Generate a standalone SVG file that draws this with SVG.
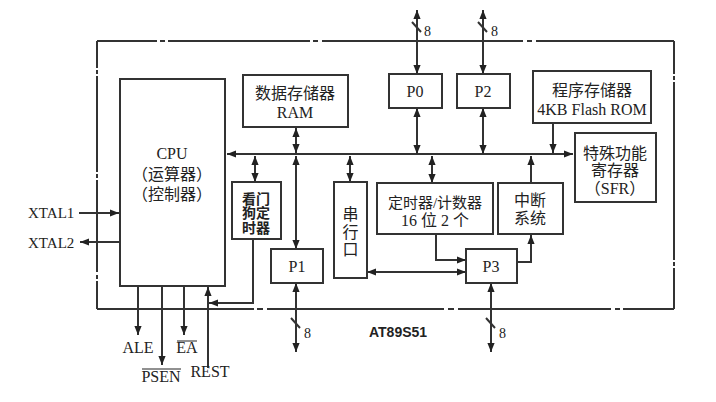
<svg xmlns="http://www.w3.org/2000/svg" width="716" height="402" viewBox="0 0 716 402">
<defs>
<marker id="ar" viewBox="0 0 10 8" refX="10" refY="4" markerWidth="9" markerHeight="8" markerUnits="userSpaceOnUse" orient="auto-start-reverse">
<path d="M0,0 L10,4 L0,8 z" fill="#222"/>
</marker>
<style>
.b{fill:#fff;stroke:#333;stroke-width:2}
.l{fill:none;stroke:#333;stroke-width:2}
.d{fill:none;stroke:#333;stroke-width:2}
.t{font-family:"Liberation Serif","Noto Sans CJK SC",serif;font-size:16px;fill:#222;text-anchor:middle}
.s{font-size:15px}
.w{font-family:"Liberation Serif","Noto Sans CJK SC",serif;font-size:14px;font-weight:bold;fill:#222;text-anchor:middle}
.n{font-family:"Liberation Serif",serif;font-size:14px;fill:#222}
.x{font-family:"Liberation Serif",serif;font-size:15px;fill:#222}
</style>
</defs>
<rect width="716" height="402" fill="#fff"/>
<g id="border" class="d">
<path d="M97,41 H157 M160,41 H165 M168,41 H310 M313,41 H318 M322,41 H523 M527,41 H532 M536,41 H674"/>
<path d="M674,41 V74 M674,76 V80 M674,82 V260 M674,262 V266 M674,268 V309"/>
<path d="M674,309 H623 M620,309 H615 M611,309 H458 M454,309 H448 M444,309 H267 M263,309 H257 M254,309 H97"/>
<path d="M97,309 V281 M97,279 V275 M97,272 V180 M97,178 V174 M97,172 V76 M97,74 V70 M97,68 V41"/>
</g>
<g id="connectors" class="l">
<path d="M573,154 H227" marker-start="url(#ar)" marker-end="url(#ar)"/>
<path d="M417,10 V74" marker-start="url(#ar)" marker-end="url(#ar)"/>
<path d="M417,108 V154" marker-start="url(#ar)" marker-end="url(#ar)"/>
<path d="M483,10 V74" marker-start="url(#ar)" marker-end="url(#ar)"/>
<path d="M483,108 V154" marker-start="url(#ar)" marker-end="url(#ar)"/>
<path d="M412,22 L421,32 M478,22 L487,32 M291,318 L300,328 M486,318 L495,328"/>
<path d="M553,123 V153" marker-end="url(#ar)"/>
<path d="M296,128 V153" marker-start="url(#ar)" marker-end="url(#ar)"/>
<path d="M296,156 V249" marker-start="url(#ar)" marker-end="url(#ar)"/>
<path d="M296,283 V352" marker-start="url(#ar)" marker-end="url(#ar)"/>
<path d="M491,283 V352" marker-start="url(#ar)" marker-end="url(#ar)"/>
<path d="M255,156 V182" marker-start="url(#ar)" marker-end="url(#ar)"/>
<path d="M350,156 V182" marker-start="url(#ar)" marker-end="url(#ar)"/>
<path d="M432,156 V183" marker-start="url(#ar)" marker-end="url(#ar)"/>
<path d="M531,183 V156" marker-end="url(#ar)"/>
<path d="M436,234 V260 H466" marker-end="url(#ar)"/>
<path d="M367,272 H466" marker-start="url(#ar)" marker-end="url(#ar)"/>
<path d="M517,262 H531 V235" marker-end="url(#ar)"/>
<path d="M253,239 V303 H209" marker-end="url(#ar)"/>
<path d="M208,368 V287" marker-end="url(#ar)"/>
<path d="M138,286 V335" marker-end="url(#ar)"/>
<path d="M162,286 V365" marker-end="url(#ar)"/>
<path d="M184,286 V335" marker-end="url(#ar)"/>
<path d="M79,213 H119" marker-end="url(#ar)"/>
<path d="M120,242 H80" marker-end="url(#ar)"/>
</g>
<g id="cpu"><rect class="b" x="120" y="79" width="105" height="207"/>
<text class="t" x="172" y="159">CPU</text>
<text class="t" x="172" y="180">（运算器）</text>
<text class="t" x="172" y="200">（控制器）</text></g>
<g id="ram"><rect class="b" x="243" y="75" width="105" height="52"/>
<text class="t" x="295" y="99">数据存储器</text>
<text class="t" x="295" y="118">RAM</text></g>
<g id="p0"><rect class="b" x="389" y="74" width="53" height="34"/>
<text class="t" x="415" y="97">P0</text></g>
<g id="p2"><rect class="b" x="457" y="74" width="53" height="34"/>
<text class="t" x="483" y="97">P2</text></g>
<g id="rom"><rect class="b" x="533" y="71" width="118" height="52"/>
<text class="t" x="592" y="96">程序存储器</text>
<text class="t" x="592" y="115">4KB Flash ROM</text></g>
<g id="sfr"><rect class="b" x="575" y="133" width="81" height="69"/>
<text class="t" x="615" y="159">特殊功能</text>
<text class="t" x="615" y="176">寄存器</text>
<text class="t" x="615" y="194">（SFR）</text></g>
<g id="watchdog"><rect class="b" x="232" y="182" width="49" height="57"/>
<text class="w" x="256" y="204">看门</text>
<text class="w" x="256" y="218">狗定</text>
<text class="w" x="256" y="233">时器</text></g>
<g id="serial"><rect class="b" x="334" y="182" width="33" height="96"/>
<text class="t" x="350.5" y="220">串</text>
<text class="t" x="350.5" y="238">行</text>
<text class="t" x="350.5" y="255">口</text></g>
<g id="timer"><rect class="b" x="377" y="183" width="116" height="51"/>
<text class="t s" x="435" y="208">定时器/计数器</text>
<text class="t" x="435" y="226">16 位 2 个</text></g>
<g id="interrupt"><rect class="b" x="498" y="183" width="65" height="51"/>
<text class="t" x="530" y="206">中断</text>
<text class="t" x="530" y="224">系统</text></g>
<g id="p1"><rect class="b" x="271" y="249" width="52" height="34"/>
<text class="t" x="297" y="272">P1</text></g>
<g id="p3"><rect class="b" x="466" y="249" width="51" height="34"/>
<text class="t" x="491" y="272">P3</text></g>
<g id="labels">
<text class="n" x="424" y="36">8</text>
<text class="n" x="491" y="36">8</text>
<text class="n" x="304" y="338">8</text>
<text class="n" x="499" y="338">8</text>
<text class="x" x="28" y="218">XTAL1</text>
<text class="x" x="28" y="248">XTAL2</text>
<text class="t" x="138" y="353">ALE</text>
<text class="t" x="187" y="353">EA</text>
<line x1="177" y1="341" x2="197" y2="341" stroke="#222" stroke-width="1"/>
<text class="t" x="161" y="382">PSEN</text>
<line x1="142" y1="369" x2="181" y2="369" stroke="#222" stroke-width="1"/>
<text class="t" x="210" y="377">REST</text>
<text x="369" y="337" font-family="'Liberation Sans',Arial,sans-serif" font-size="14" font-weight="bold" fill="#222">AT89S51</text>
</g>
</svg>
